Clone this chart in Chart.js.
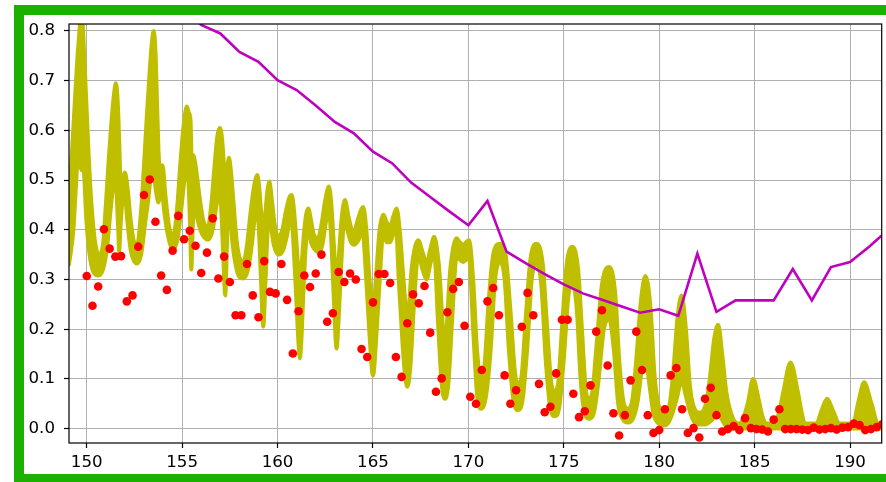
<!DOCTYPE html>
<html>
<head>
<meta charset="utf-8">
<script src="https://cdn.jsdelivr.net/npm/chart.js@4"></script>
<style>
  body { margin: 0; background: #fff; }
  canvas { display: block; }
</style>
</head>
<body>
<canvas id="chart" width="886" height="482"></canvas>
<script>
// tick labels
const xTicks = [150, 155, 160, 165, 170, 175, 180, 185, 190];
const yTicks = [0.0, 0.1, 0.2, 0.3, 0.4, 0.5, 0.6, 0.7, 0.8];

// olive band: upper and lower outline [x, y]
const bandUpper = [
  [149.07, 0.46], [149.20, 0.54], [149.35, 0.64], [149.50, 0.74], [149.62, 0.80], [149.72, 0.85],
  [149.82, 0.79], [149.95, 0.68], [150.10, 0.55], [150.25, 0.45], [150.42, 0.38], [150.62, 0.35],
  [150.85, 0.37], [151.00, 0.45], [151.15, 0.54], [151.30, 0.62], [151.45, 0.68], [151.53, 0.695],
  [151.62, 0.66], [151.70, 0.58], [151.76, 0.51], [151.85, 0.50], [152.00, 0.515], [152.15, 0.48],
  [152.30, 0.42], [152.45, 0.38], [152.62, 0.365], [152.85, 0.44], [153.00, 0.53], [153.15, 0.63],
  [153.30, 0.72], [153.42, 0.78], [153.51, 0.80], [153.60, 0.76], [153.68, 0.66], [153.76, 0.56],
  [153.84, 0.52], [153.97, 0.53], [154.12, 0.47], [154.30, 0.41], [154.52, 0.385], [154.75, 0.45],
  [154.90, 0.53], [155.05, 0.60], [155.18, 0.64], [155.24, 0.648], [155.35, 0.635], [155.44, 0.62],
  [155.50, 0.54], [155.58, 0.55], [155.70, 0.53], [155.90, 0.47], [156.10, 0.42], [156.35, 0.405],
  [156.55, 0.46], [156.70, 0.53], [156.85, 0.59], [156.98, 0.605], [157.10, 0.58], [157.20, 0.52],
  [157.27, 0.47], [157.36, 0.52], [157.45, 0.545], [157.55, 0.52], [157.70, 0.45], [157.85, 0.38],
  [158.00, 0.345], [158.20, 0.335], [158.40, 0.37], [158.60, 0.44], [158.80, 0.495], [158.94, 0.51],
  [159.05, 0.48], [159.15, 0.43], [159.25, 0.40], [159.35, 0.43], [159.47, 0.48], [159.57, 0.497],
  [159.70, 0.46], [159.85, 0.41], [160.05, 0.385], [160.25, 0.40], [160.45, 0.44], [160.62, 0.465],
  [160.74, 0.47], [160.86, 0.44], [161.00, 0.37], [161.10, 0.31], [161.17, 0.29], [161.26, 0.33],
  [161.40, 0.40], [161.52, 0.435], [161.61, 0.443], [161.75, 0.42], [161.90, 0.39], [162.12, 0.383],
  [162.30, 0.41], [162.50, 0.46], [162.69, 0.487], [162.82, 0.45], [162.95, 0.37], [163.09, 0.30],
  [163.20, 0.34], [163.35, 0.42], [163.53, 0.46], [163.70, 0.43], [163.85, 0.405], [164.00, 0.395],
  [164.20, 0.42], [164.49, 0.446], [164.65, 0.40], [164.80, 0.31], [165.00, 0.24], [165.15, 0.30],
  [165.35, 0.40], [165.54, 0.43], [165.72, 0.415], [165.90, 0.405], [166.05, 0.425], [166.24, 0.443],
  [166.40, 0.40], [166.60, 0.30], [166.80, 0.22], [167.05, 0.33], [167.37, 0.379], [167.60, 0.355],
  [167.81, 0.332], [168.00, 0.36], [168.21, 0.386], [168.45, 0.33], [168.77, 0.17], [169.05, 0.32],
  [169.38, 0.383], [169.55, 0.375], [169.73, 0.369], [169.90, 0.376], [170.03, 0.379], [170.25, 0.30],
  [170.45, 0.16], [170.65, 0.10], [170.85, 0.13], [171.05, 0.25], [171.30, 0.35], [171.65, 0.372],
  [171.95, 0.35], [172.20, 0.24], [172.45, 0.11], [172.61, 0.09], [172.80, 0.11], [173.00, 0.22],
  [173.25, 0.34], [173.57, 0.372], [173.90, 0.33], [174.10, 0.22], [174.35, 0.09], [174.52, 0.075],
  [174.70, 0.09], [174.90, 0.20], [175.15, 0.33], [175.46, 0.366], [175.75, 0.32], [175.95, 0.20],
  [176.15, 0.08], [176.30, 0.06], [176.48, 0.07], [176.70, 0.16], [177.00, 0.29], [177.38, 0.325],
  [177.70, 0.27], [177.90, 0.14], [178.10, 0.06], [178.35, 0.04], [178.60, 0.06], [178.80, 0.14],
  [179.05, 0.26], [179.28, 0.307], [179.55, 0.24], [179.75, 0.11], [179.95, 0.05], [180.25, 0.03],
  [180.55, 0.05], [180.75, 0.12], [180.95, 0.22], [181.17, 0.268], [181.40, 0.20], [181.60, 0.09],
  [181.80, 0.045], [182.13, 0.032], [182.45, 0.05], [182.65, 0.10], [182.88, 0.18], [183.09, 0.209],
  [183.30, 0.15], [183.52, 0.073], [183.87, 0.02], [184.20, 0.010], [184.45, 0.026], [184.66, 0.054],
  [184.92, 0.100], [185.24, 0.054], [185.40, 0.026], [185.62, 0.010], [186.06, 0.010], [186.30, 0.036],
  [186.49, 0.071], [186.88, 0.133], [187.28, 0.071], [187.45, 0.036], [187.63, 0.010], [188.24, 0.010],
  [188.50, 0.036], [188.80, 0.060], [189.11, 0.036], [189.46, 0.010], [190.16, 0.010], [190.42, 0.051],
  [190.74, 0.093], [191.12, 0.051], [191.47, 0.010], [191.70, 0.010]
];
const bandLower = [
  [149.07, 0.33], [149.30, 0.40], [149.45, 0.50], [149.55, 0.56], [149.65, 0.53], [149.72, 0.52],
  [149.80, 0.54], [149.85, 0.52], [149.98, 0.42], [150.15, 0.35], [150.35, 0.315], [150.62, 0.308],
  [150.85, 0.32], [151.05, 0.36], [151.25, 0.44], [151.42, 0.50], [151.50, 0.52], [151.58, 0.46],
  [151.65, 0.40], [151.70, 0.355], [151.76, 0.40], [151.88, 0.46], [152.00, 0.47], [152.12, 0.42],
  [152.30, 0.36], [152.62, 0.332], [152.85, 0.35], [153.05, 0.41], [153.25, 0.47], [153.40, 0.53],
  [153.48, 0.55], [153.56, 0.50], [153.66, 0.47], [153.76, 0.455], [153.85, 0.47], [153.93, 0.48],
  [154.05, 0.44], [154.25, 0.39], [154.52, 0.36], [154.75, 0.38], [154.95, 0.44], [155.12, 0.50],
  [155.24, 0.53], [155.34, 0.49], [155.42, 0.40], [155.48, 0.32], [155.55, 0.40], [155.62, 0.45],
  [155.75, 0.43], [155.95, 0.40], [156.15, 0.385], [156.35, 0.38], [156.60, 0.40], [156.80, 0.45],
  [156.95, 0.48], [157.05, 0.44], [157.15, 0.35], [157.26, 0.268], [157.34, 0.36], [157.42, 0.45],
  [157.50, 0.44], [157.62, 0.38], [157.80, 0.33], [158.00, 0.305], [158.20, 0.302], [158.45, 0.32],
  [158.65, 0.37], [158.82, 0.43], [158.92, 0.45], [159.02, 0.40], [159.13, 0.30], [159.25, 0.205],
  [159.37, 0.30], [159.48, 0.40], [159.56, 0.44], [159.65, 0.41], [159.80, 0.37], [160.05, 0.35],
  [160.30, 0.36], [160.50, 0.39], [160.66, 0.42], [160.74, 0.42], [160.85, 0.36], [160.98, 0.26],
  [161.10, 0.17], [161.17, 0.141], [161.25, 0.18], [161.36, 0.28], [161.50, 0.38], [161.61, 0.40],
  [161.75, 0.375], [161.95, 0.36], [162.12, 0.355], [162.35, 0.37], [162.55, 0.42], [162.69, 0.44],
  [162.80, 0.39], [162.95, 0.26], [163.09, 0.161], [163.20, 0.22], [163.35, 0.34], [163.50, 0.42],
  [163.65, 0.40], [163.85, 0.375], [164.00, 0.37], [164.25, 0.38], [164.45, 0.40], [164.60, 0.33],
  [164.80, 0.20], [165.00, 0.107], [165.20, 0.20], [165.40, 0.33], [165.54, 0.40], [165.72, 0.375],
  [165.90, 0.375], [166.05, 0.39], [166.20, 0.41], [166.35, 0.30], [166.55, 0.17], [166.70, 0.10],
  [166.80, 0.084], [166.95, 0.12], [167.15, 0.25], [167.37, 0.35], [167.60, 0.32], [167.81, 0.30],
  [168.00, 0.33], [168.21, 0.355], [168.40, 0.22], [168.60, 0.09], [168.77, 0.060], [168.95, 0.09],
  [169.15, 0.22], [169.38, 0.345], [169.73, 0.335], [170.03, 0.345], [170.25, 0.20], [170.45, 0.07],
  [170.65, 0.040], [170.90, 0.06], [171.15, 0.15], [171.40, 0.30], [171.65, 0.335], [171.90, 0.30],
  [172.12, 0.16], [172.35, 0.06], [172.61, 0.037], [172.85, 0.06], [173.08, 0.16], [173.32, 0.30],
  [173.57, 0.33], [173.82, 0.29], [174.05, 0.14], [174.30, 0.04], [174.52, 0.025], [174.75, 0.04],
  [175.00, 0.14], [175.25, 0.27], [175.46, 0.29], [175.68, 0.24], [175.88, 0.10], [176.10, 0.03],
  [176.30, 0.020], [176.55, 0.028], [176.80, 0.09], [177.10, 0.20], [177.38, 0.22], [177.62, 0.16],
  [177.85, 0.05], [178.10, 0.018], [178.35, 0.012], [178.60, 0.018], [178.85, 0.05], [179.10, 0.12],
  [179.28, 0.14], [179.48, 0.09], [179.70, 0.03], [180.00, 0.009], [180.25, 0.006], [180.45, 0.010],
  [180.69, 0.030], [180.95, 0.065], [181.17, 0.097], [181.40, 0.065], [181.64, 0.030], [181.90, 0.010],
  [182.13, 0.008], [182.40, 0.008], [182.70, 0.015], [183.09, 0.03], [183.40, 0.01], [183.70, 0.000],
  [191.70, 0.000]
];

// red points, one every 0.3 from 150.0
const dotStart = 150.0;
const dotStep = 0.3;
const dotValues = [
  0.307, 0.247, 0.286, 0.401, 0.362, 0.346, 0.347, 0.256, 0.268, 0.366,
  0.470, 0.501, 0.416, 0.308, 0.279, 0.358, 0.428, 0.381, 0.398, 0.368,
  0.313, 0.354, 0.423, 0.302, 0.346, 0.295, 0.228, 0.228, 0.331, 0.268,
  0.224, 0.337, 0.275, 0.272, 0.331, 0.259, 0.151, 0.236, 0.308, 0.285,
  0.312, 0.350, 0.215, 0.232, 0.315, 0.295, 0.312, 0.300, 0.160, 0.144,
  0.254, 0.311, 0.311, 0.293, 0.144, 0.104, 0.212, 0.270, 0.252, 0.287,
  0.193, 0.074, 0.101, 0.234, 0.281, 0.295, 0.207, 0.064, 0.050, 0.118,
  0.256, 0.283, 0.228, 0.107, 0.050, 0.077, 0.205, 0.273, 0.228, 0.090,
  0.033, 0.044, 0.111, 0.219, 0.219, 0.070, 0.023, 0.035, 0.087, 0.195,
  0.238, 0.127, 0.031, -0.014, 0.027, 0.097, 0.195, 0.118, 0.027, -0.009,
  -0.003, 0.039, 0.107, 0.122, 0.039, -0.009, 0.001, -0.018, 0.060, 0.082,
  0.027, -0.006, -0.001, 0.005, -0.003, 0.021, 0.001, -0.001, -0.002, -0.006,
  0.018, 0.039, -0.001, -0.001, -0.001, -0.002, -0.003, 0.002, -0.002, -0.001,
  0.001, -0.002, 0.002, 0.003, 0.010, 0.007, -0.003, -0.001, 0.003, 0.009
];

// magenta line
const lineX = [155, 156, 157, 158, 159, 160, 161, 162, 163, 164, 165, 166, 167, 168, 169, 170, 171, 172, 173,
  174, 175, 176, 177, 178, 179, 180, 181, 182, 183, 184, 185, 186, 187, 188, 189, 190, 191, 192];
const lineY = [0.85, 0.812, 0.795, 0.758, 0.738, 0.701, 0.681, 0.650, 0.617, 0.594, 0.557, 0.534, 0.495, 0.466,
  0.437, 0.409, 0.458, 0.356, 0.333, 0.311, 0.290, 0.272, 0.259, 0.246, 0.233, 0.240, 0.227, 0.352, 0.235,
  0.258, 0.258, 0.258, 0.321, 0.258, 0.325, 0.335, 0.366, 0.40];

const OLIVE = "#bfbf00";
const toXY = (p) => ({ x: p[0], y: p[1] });

const frame = {
  id: "frame",
  beforeDraw(chart) {
    const ctx = chart.ctx;
    ctx.save();
    ctx.fillStyle = "#fff";
    ctx.fillRect(0, 0, chart.width, chart.height);
    ctx.fillStyle = "rgb(28,176,0)";
    ctx.fillRect(14, 5, 10, 477);
    ctx.fillRect(14, 5, 872, 10);
    ctx.fillRect(14, 474, 872, 8);
    ctx.restore();
  },
  afterDraw(chart) {
    const a = chart.chartArea;
    const ctx = chart.ctx;
    ctx.save();
    ctx.strokeStyle = "#000";
    ctx.lineWidth = 1.2;
    ctx.strokeRect(a.left, a.top, a.right - a.left, a.bottom - a.top);
    ctx.restore();
  }
};

const bandStyle = {
  borderColor: OLIVE,
  borderWidth: 4,
  borderJoinStyle: "round",
  borderCapStyle: "round",
  pointRadius: 0,
  cubicInterpolationMode: "monotone"
};

new Chart(document.getElementById("chart"), {
  type: "line",
  data: {
    datasets: [
      Object.assign({ data: bandUpper.map(toXY), backgroundColor: OLIVE, fill: "+1", order: 3 }, bandStyle),
      Object.assign({ data: bandLower.map(toXY), fill: false, order: 4 }, bandStyle),
      {
        data: dotValues.map((v, i) => ({ x: Math.round((dotStart + i * dotStep) * 10) / 10, y: v })),
        showLine: false,
        pointRadius: 4.3,
        pointBorderWidth: 0,
        pointBackgroundColor: "#ff0000",
        order: 2
      },
      {
        data: lineX.map((x, i) => ({ x: x, y: lineY[i] })),
        borderColor: "#bf00bf",
        borderWidth: 2.6,
        pointRadius: 0,
        tension: 0,
        fill: false,
        order: 1
      }
    ]
  },
  options: {
    responsive: false,
    animation: false,
    events: [],
    layout: { padding: { left: 0, top: 24, right: 4, bottom: 0 } },
    plugins: { legend: { display: false }, tooltip: { enabled: false } },
    scales: {
      x: {
        type: "linear",
        min: 149.07,
        max: 191.66,
        afterBuildTicks: (s) => { s.ticks = xTicks.map(v => ({ value: v })); },
        afterFit: (s) => { s.height = 39; },
        grid: { color: "#b0b0b0", lineWidth: 1, tickColor: "#000", tickLength: 5, tickWidth: 1.2 },
        border: { display: false },
        ticks: {
          color: "#000",
          padding: 5,
          maxRotation: 0,
          font: { family: "DejaVu Sans", size: 16.67 },
          callback: (v) => String(v)
        }
      },
      y: {
        type: "linear",
        min: -0.029,
        max: 0.814,
        afterBuildTicks: (s) => { s.ticks = yTicks.map(v => ({ value: v })); },
        afterFit: (s) => { s.width = 69; },
        grid: { color: "#b0b0b0", lineWidth: 1, tickColor: "#000", tickLength: 5, tickWidth: 1.2 },
        border: { display: false },
        ticks: {
          color: "#000",
          padding: 9,
          font: { family: "DejaVu Sans", size: 16.67 },
          callback: (v) => v.toFixed(1)
        }
      }
    }
  },
  plugins: [frame]
});
</script>
</body>
</html>
